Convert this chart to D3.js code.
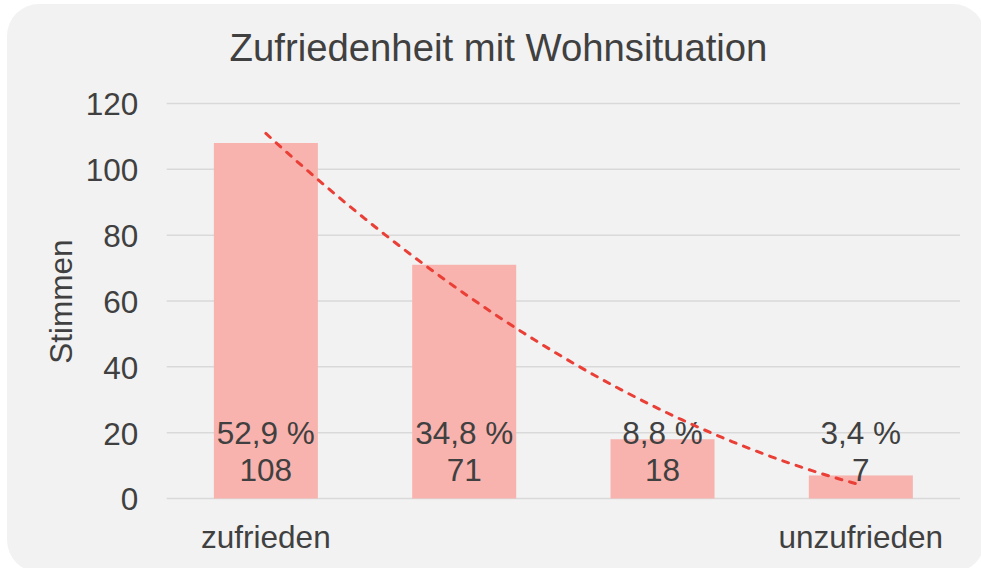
<!DOCTYPE html>
<html>
<head>
<meta charset="utf-8">
<script src="https://cdn.jsdelivr.net/npm/d3@7/dist/d3.min.js"></script>
<style>
  html, body { margin: 0; padding: 0; background: #ffffff; }
  svg { display: block; }
  text { font-family: "Liberation Sans", Arial, sans-serif; fill: #404040; }
</style>
</head>
<body>
<svg id="chart" width="981" height="568"></svg>
<script>
// ---- data ----
const categories = ["zufrieden", "", "", "unzufrieden"];
const votes = [108, 71, 18, 7];
const percentLabels = ["52,9 %", "34,8 %", "8,8 %", "3,4 %"];
const yTicks = [0, 20, 40, 60, 80, 100, 120];
const title = "Zufriedenheit mit Wohnsituation";
const yTitle = "Stimmen";

// ---- layout ----
const W = 981, H = 568;
const plot = { left: 166.7, right: 960, top: 103.5, bottom: 498.5 };
const svg = d3.select("#chart");

// background panel
svg.append("rect")
  .attr("x", 7).attr("y", 4)
  .attr("width", 978).attr("height", 568)
  .attr("rx", 32).attr("ry", 32)
  .attr("fill", "#f2f2f2");

const x = d3.scaleBand()
  .domain(d3.range(categories.length))
  .range([plot.left, plot.right])
  .paddingInner(0.4755)
  .paddingOuter(0.4755 / 2);

const y = d3.scaleLinear().domain([0, 120]).range([plot.bottom, plot.top]);

// gridlines
svg.append("g").selectAll("line").data(yTicks).join("line")
  .attr("x1", plot.left).attr("x2", plot.right)
  .attr("y1", d => y(d)).attr("y2", d => y(d))
  .attr("stroke", "#d9d9d9").attr("stroke-width", 1.5);

// y axis labels
const yAxis = d3.axisLeft(y).tickValues(yTicks).tickSize(0).tickPadding(0);
const yg = svg.append("g").attr("transform", `translate(${plot.left - 28.4},0)`).call(yAxis);
yg.select(".domain").remove();
yg.selectAll("text")
  .attr("x", 0).attr("dy", "0.36em")
  .style("font-size", "31.5px").style("fill", "#404040")
  .style("font-family", "'Liberation Sans', Arial, sans-serif");

// bars
svg.append("g").selectAll("rect").data(votes).join("rect")
  .attr("x", (d, i) => x(i))
  .attr("width", x.bandwidth())
  .attr("y", d => y(d))
  .attr("height", d => y(0) - y(d))
  .attr("fill", "#f8b3ae");

// data labels (inside base)
const lbl = svg.append("g");
votes.forEach((v, i) => {
  const cx = x(i) + x.bandwidth() / 2;
  lbl.append("text").attr("x", cx).attr("y", 444.3)
    .attr("text-anchor", "middle").style("font-size", "31.5px").text(percentLabels[i]);
  lbl.append("text").attr("x", cx).attr("y", 480.7)
    .attr("text-anchor", "middle").style("font-size", "31.5px").text(v);
});

// polynomial (order 2) trend line fitted to the data
const xs = votes.map((d, i) => i + 1);
const n = xs.length;
const mx = d3.mean(xs);
const t = xs.map(v => v - mx);
const s2 = d3.sum(t, v => v * v), s4 = d3.sum(t, v => v ** 4);
const sy = d3.sum(votes), sty = d3.sum(t.map((v, i) => v * votes[i]));
const st2y = d3.sum(t.map((v, i) => v * v * votes[i]));
const b = sty / s2;
const c = (st2y - s2 * sy / n) / (s4 - s2 * s2 / n);
const a = (sy - c * s2) / n;
const trend = xv => a + b * (xv - mx) + c * (xv - mx) ** 2;

const xLin = d3.scaleLinear().domain([1, n])
  .range([x(0) + x.bandwidth() / 2, x(n - 1) + x.bandwidth() / 2]);
const pts = d3.range(0, 61).map(k => 1 + (n - 1) * k / 60);
svg.append("path")
  .datum(pts)
  .attr("d", d3.line().x(d => xLin(d)).y(d => y(trend(d))))
  .attr("fill", "none")
  .attr("stroke", "#ea3f37")
  .attr("stroke-width", 3)
  .attr("stroke-dasharray", "6,8")
  .attr("stroke-linecap", "round");

// x labels
svg.append("g").selectAll("text").data(categories).join("text")
  .attr("x", (d, i) => x(i) + x.bandwidth() / 2)
  .attr("y", 548.3)
  .attr("text-anchor", "middle")
  .style("font-size", "31.5px")
  .text(d => d);

// title
svg.append("text").attr("x", 498.5).attr("y", 60.7)
  .attr("text-anchor", "middle").style("font-size", "38.3px").text(title);

// y axis title
svg.append("text")
  .attr("transform", `translate(71.7,301.5) rotate(-90)`)
  .attr("text-anchor", "middle").style("font-size", "31.5px").text(yTitle);
</script>
</body>
</html>
